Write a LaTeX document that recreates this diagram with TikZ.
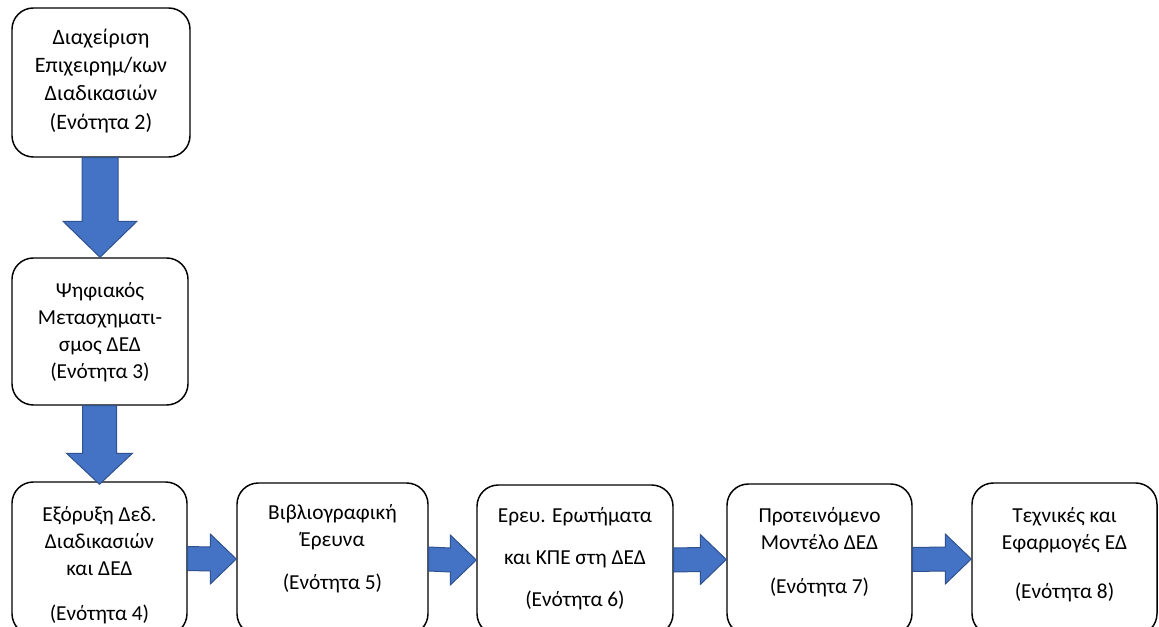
\documentclass[tikz,border=0pt]{standalone}
\usepackage{fontspec}
\setmainfont{Carlito}
\usetikzlibrary{calc, fit, positioning}
\definecolor{arrowblue}{RGB}{68,114,196}
\definecolor{arrowedge}{RGB}{47,82,143}

\begin{document}
\begin{tikzpicture}[x=0.75pt, y=-0.75pt,
  box/.style={draw=black, line width=1.1pt, rounded corners=16pt, inner sep=0pt, fill=white},
  txt/.style={align=center, inner sep=0pt, font=\fontsize{16}{20.25}\selectfont},
  blkarrow/.style={fill=arrowblue, draw=arrowedge, line width=0.75pt, line join=miter}]
  \useasboundingbox (0,0) rectangle (1159,627);
  \clip (0,0) rectangle (1159,627);
  % left column
  \node[box, fit={(12,8) (190,157)}] (dia) {};
  \node[box, fit={(12,258) (188,405)}] (psi) {};
  \node[box, fit={(12,482) (187,635)}] (exo) {};
  % bottom row
  \node[box, fit={(237,483) (428,635)}] (bib) {};
  \node[box, fit={(477,485) (673,635)}] (ere) {};
  \node[box, fit={(727,484) (912,635)}] (pro) {};
  \node[box, fit={(972,483) (1157,635)}] (tec) {};
  % texts
  \node[txt, font=\fontsize{16.5}{21.25}\selectfont, below=12.5pt of dia.north] (diatxt)
    {\strut Διαχείριση\\Επιχειρημ/κων\\Διαδικασιών\\(Ενότητα 2)};
  \node[txt, below=16pt of psi.north] (psitxt)
    {\strut Ψηφιακός\\Μετασχηματι-\\σμος ΔΕΔ\\(Ενότητα 3)};
  \node[txt, below=16pt of exo.north] (exotxt)
    {\strut Εξόρυξη Δεδ.\\Διαδικασιών\\και ΔΕΔ\\[13pt](Ενότητα 4)};
  \node[txt, below=13.5pt of bib.north] (bibtxt)
    {\strut Βιβλιογραφική\\Έρευνα\\[12pt](Ενότητα 5)};
  \node[txt, below=14pt of ere.north] (eretxt)
    {\strut Ερευ. Ερωτήματα\\[11.5pt]και ΚΠΕ στη ΔΕΔ\\[11pt](Ενότητα 6)};
  \node[txt, below=15pt of pro.north] (protxt)
    {\strut Προτεινόμενο\\Μοντέλο ΔΕΔ\\[12.5pt](Ενότητα 7)};
  \node[txt, below=15.5pt of tec.north] (tectxt)
    {\strut Τεχνικές και\\Εφαρμογές ΕΔ\\[16.5pt](Ενότητα 8)};
  % block arrows
  \draw[blkarrow] ($(psi.north |- dia.south)+(-18,0)$) -- ($(psi.north)+(-18,-36)$)
    -- ($(psi.north)+(-37,-36)$) -- (psi.north) -- ($(psi.north)+(37,-36)$)
    -- ($(psi.north)+(18,-36)$) -- ($(psi.north |- dia.south)+(18,0)$) -- cycle;
  \draw[blkarrow] ($(exo.north |- psi.south)+(-17,0)$) -- ($(exo.north)+(-17,-28)$)
    -- ($(exo.north)+(-33,-28)$) -- ($(exo.north)+(0,3)$) -- ($(exo.north)+(33,-28)$)
    -- ($(exo.north)+(17,-28)$) -- ($(exo.north |- psi.south)+(17,0)$) -- cycle;
  \foreach \a/\b in {exo/bib, bib/ere, ere/pro, pro/tec}
    \draw[blkarrow] ($(\a.east)+(0,-12)$) -- ($(\b.west)+(-26,-12)$)
      -- ($(\b.west)+(-26,-25)$) -- (\b.west) -- ($(\b.west)+(-26,25)$)
      -- ($(\b.west)+(-26,12)$) -- ($(\a.east)+(0,12)$) -- cycle;
\end{tikzpicture}
\end{document}
